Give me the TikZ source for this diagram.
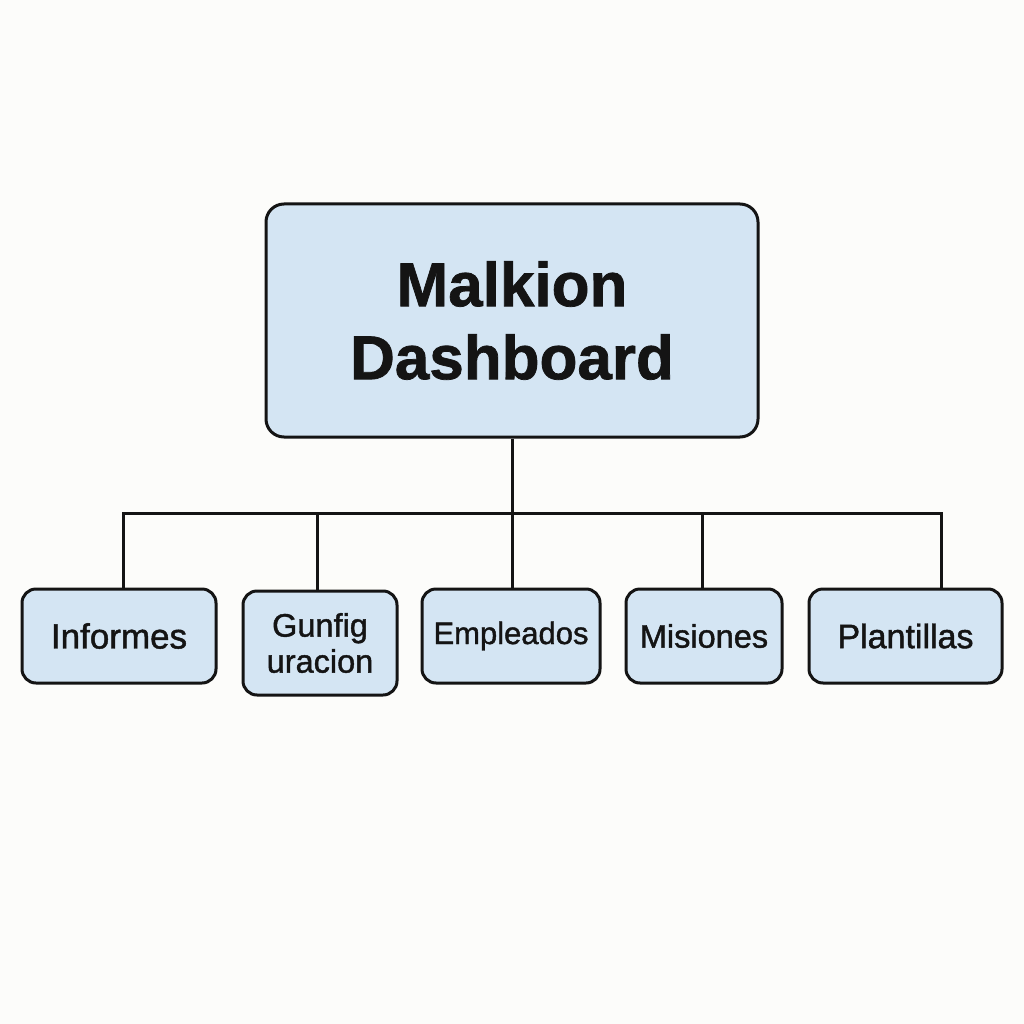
\documentclass[tikz,border=0pt]{standalone}
\usepackage{fontspec}
\setmainfont{Liberation Sans}
\newfontfamily\medfont[FakeBold=1.3]{Liberation Sans}
\newfontfamily\heavyfont[FakeBold=1.2]{Liberation Sans Bold}
\definecolor{bg}{HTML}{FCFCFA}
\definecolor{boxfill}{HTML}{D4E5F3}
\definecolor{ink}{HTML}{141414}
\begin{document}
\begin{tikzpicture}[x=1pt,y=-1pt,
  box/.style={draw=ink,line width=3pt,fill=boxfill,rounded corners=14pt,text=ink,align=center,inner sep=0pt},
  wire/.style={draw=ink,line width=3pt}]
\fill[bg] (0,0) rectangle (1024,1024);
\useasboundingbox (0,0) rectangle (1024,1024);
\node[box,rounded corners=18pt,minimum width=492pt,minimum height=233pt,
  font=\heavyfont\fontsize{62}{73}\selectfont] (main) at (512,320.5) {Malkion\\Dashboard};
\node[box,minimum width=194pt,minimum height=94pt,font=\medfont\fontsize{35}{40}\selectfont] (inf) at (119,636) {Informes};
\node[box,minimum width=154pt,minimum height=104pt,font=\medfont\fontsize{32.5}{36}\selectfont] (gun) at (320,643) {Gunfig\\uracion};
\node[box,minimum width=178pt,minimum height=94pt,font=\medfont\fontsize{31}{36}\selectfont] (emp) at (511,636) {\raisebox{-2pt}{Empleados}};
\node[box,minimum width=156pt,minimum height=94pt,font=\medfont\fontsize{32.5}{36}\selectfont] (mis) at (704,636) {Misiones};
\node[box,minimum width=193pt,minimum height=94pt,font=\medfont\fontsize{34}{36}\selectfont] (pla) at (905.5,636) {Plantillas};
\coordinate (bus) at (512,513);
\coordinate (busL) at (123,513);
\coordinate (busR) at (941,513);
\coordinate (d2) at (317,513);
\coordinate (d4) at (702,513);
\draw[wire] (main.south) -- (bus);
\draw[wire,line cap=rect] (busL) -- (busR);
\draw[wire] (busL) -- (busL |- inf.north);
\draw[wire] (d2) -- (d2 |- gun.north);
\draw[wire] (bus) -- (bus |- emp.north);
\draw[wire] (d4) -- (d4 |- mis.north);
\draw[wire] (busR) -- (busR |- pla.north);
\end{tikzpicture}
\end{document}
